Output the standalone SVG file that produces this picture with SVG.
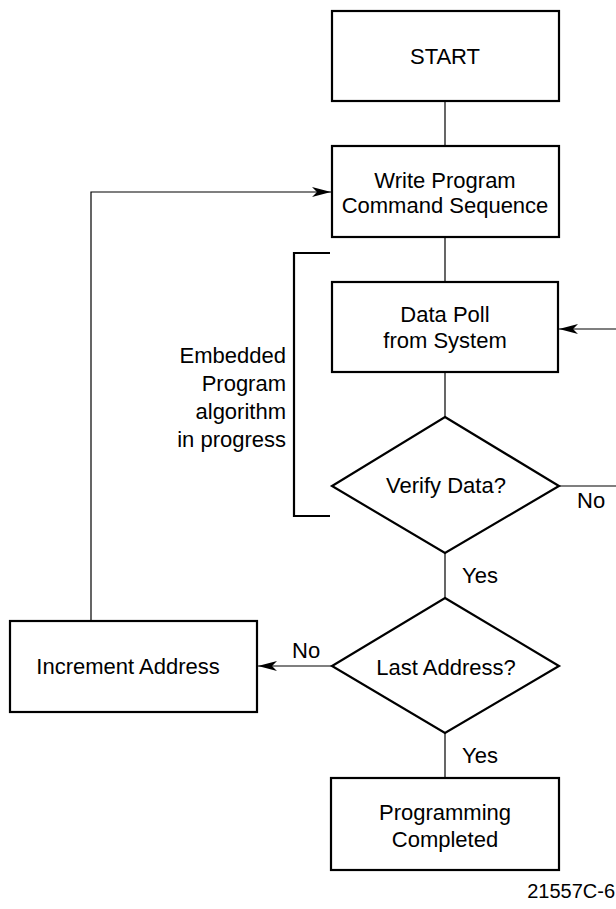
<svg xmlns="http://www.w3.org/2000/svg" width="616" height="909" viewBox="0 0 616 909">
<style>
  .box{fill:#fff;stroke:#000;stroke-width:2.2}
  .line{fill:none;stroke:#000;stroke-width:1.2}
  .bracket{fill:none;stroke:#000;stroke-width:2.2}
  text{font-family:"Liberation Sans",Arial,Helvetica,sans-serif;font-size:22px;fill:#000}
  .c{text-anchor:middle}
  .r{text-anchor:end}
  .lab{font-size:22px}
</style>
<defs>
  <marker id="arr" markerUnits="userSpaceOnUse" markerWidth="22" markerHeight="12" refX="19" refY="6" orient="auto">
    <path d="M0,1 L19,6 L0,11 L5,6 Z" fill="#000"/>
  </marker>
</defs>
<rect width="616" height="909" fill="#fff"/>

<g id="connectors">
  <line class="line" x1="445" y1="101" x2="445" y2="146"/>
  <line class="line" x1="445" y1="237" x2="445" y2="282"/>
  <line class="line" x1="445" y1="372" x2="445" y2="417"/>
  <line class="line" x1="445" y1="553" x2="445" y2="598"/>
  <line class="line" x1="445" y1="733" x2="445" y2="778"/>
  <path class="line" d="M559,486 H624 V329 H559" marker-end="url(#arr)"/>
  <path class="line" d="M332,666 H258" marker-end="url(#arr)"/>
  <path class="line" d="M91,621 V192 H331" marker-end="url(#arr)"/>
  <text x="577" y="508">No</text>
  <text x="462" y="583">Yes</text>
  <text x="292" y="658">No</text>
  <text x="462" y="763">Yes</text>
</g>

<g id="bracket">
  <path class="bracket" d="M330,253 H294 V516 H330"/>
  <text class="r lab" x="286" y="363">Embedded</text>
  <text class="r lab" x="286" y="391">Program</text>
  <text class="r lab" x="286" y="419">algorithm</text>
  <text class="r lab" x="286" y="447">in progress</text>
</g>

<g id="start">
  <rect class="box" x="332" y="11" width="227" height="90"/>
  <text class="c" x="445" y="64">START</text>
</g>

<g id="write">
  <rect class="box" x="332" y="146" width="227" height="91"/>
  <text class="c" x="445" y="188">Write Program</text>
  <text class="c" x="445" y="213">Command Sequence</text>
</g>

<g id="datapoll">
  <rect class="box" x="332" y="282" width="226" height="90"/>
  <text class="c" x="445" y="322">Data Poll</text>
  <text class="c" x="445" y="348">from System</text>
</g>

<g id="verify">
  <polygon class="box" points="445,417 559,486 445,553 332,486"/>
  <text class="c" x="446" y="493">Verify Data?</text>
</g>

<g id="last">
  <polygon class="box" points="445,598 559,666 445,733 332,666"/>
  <text class="c" x="446" y="675">Last Address?</text>
</g>

<g id="increment">
  <rect class="box" x="10" y="621" width="247" height="91"/>
  <text class="c" x="128" y="674">Increment Address</text>
</g>

<g id="completed">
  <rect class="box" x="331" y="778" width="228" height="92"/>
  <text class="c" x="445" y="820">Programming</text>
  <text class="c" x="445" y="847">Completed</text>
</g>

<text class="r" x="615" y="898" style="font-size:20px">21557C-6</text>
</svg>
